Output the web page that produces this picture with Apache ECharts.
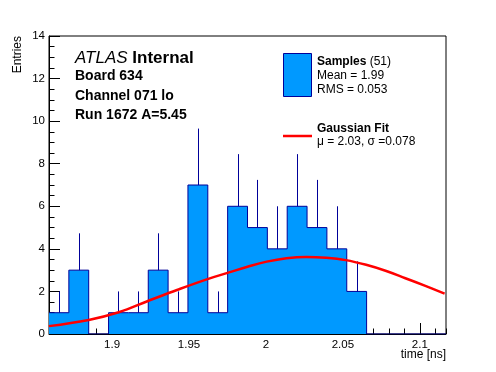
<!DOCTYPE html>
<html>
<head>
<meta charset="utf-8">
<script src="https://cdn.jsdelivr.net/npm/echarts@6/dist/echarts.min.js"></script>
<style>html,body{margin:0;padding:0;background:#fff}#c{width:496px;height:372px}</style>
</head>
<body>
<div id="c"></div>
<script>
// ---- data ----
const xMin = 1.859, xMax = 2.117;
const binEdges = [1.859, 1.8719, 1.8848, 1.8977, 1.9106, 1.9235, 1.9364, 1.9493, 1.9622, 1.9751, 1.988,
                  2.0009, 2.0138, 2.0267, 2.0396, 2.0525, 2.0654, 2.0783, 2.0912, 2.1041, 2.117];
const counts = [1, 3, 0, 1, 1, 3, 1, 7, 1, 6, 5, 4, 6, 5, 4, 2, 0, 0, 0, 0];
const errTops = [2, 4.73, 0, 2, 2, 4.73, 2, 9.65, 2, 8.45, 7.24, 6, 8.45, 7.24, 6, 3.41, 0, 0, 0, 0];
const fitX = [1.8589, 1.8848, 1.9043, 1.9233, 1.9426, 1.9620, 1.9750, 1.9880, 2.0005, 2.0133, 2.0262,
              2.0392, 2.0519, 2.0651, 2.0777, 2.0906, 2.1036, 2.1161];
const fitY = [0.37, 0.66, 1.02, 1.55, 2.08, 2.58, 2.87, 3.16, 3.40, 3.56, 3.62, 3.58, 3.47, 3.25, 2.97, 2.62, 2.26, 1.90];
const yTicks = [0, 14];

const FILL = '#0099ff', EDGE = '#000099', FONT = 'Liberation Sans';

const stepData = [];
for (let i = 0; i < counts.length; i++) stepData.push([binEdges[i], counts[i]]);
stepData.push([binEdges[counts.length], counts[counts.length - 1]]);
const errData = [];
for (let i = 0; i < counts.length; i++) if (counts[i] > 0) errData.push([binEdges[i], binEdges[i + 1], counts[i], errTops[i]]);
const fitData = fitX.map((x, i) => [x, fitY[i]]);

const chart = echarts.init(document.getElementById('c'), null, {renderer: 'canvas'});
chart.setOption({
  animation: false,
  backgroundColor: '#fff',
  grid: {left: 49, right: 50, top: 36, bottom: 38, show: true, borderColor: '#000', borderWidth: 1, backgroundColor: 'transparent'},
  xAxis: [{
    type: 'value', min: xMin, max: xMax, splitNumber: 5, position: 'bottom',
    axisLine: {show: true, lineStyle: {color: '#000', width: 1}},
    axisTick: {show: true, inside: true, length: 11, lineStyle: {color: '#000'}},
    axisLabel: {show: true, showMinLabel: false, showMaxLabel: false, color: '#000', fontFamily: FONT, fontSize: 11.5, margin: 5},
    splitLine: {show: false}
  }, {
    type: 'value', min: xMin, max: xMax, splitNumber: 26, position: 'bottom',
    axisLine: {show: false},
    axisTick: {show: true, inside: true, length: 5.5, lineStyle: {color: '#000'}},
    axisLabel: {show: false}, splitLine: {show: false}
  }],
  yAxis: {
    type: 'value', min: yTicks[0], max: yTicks[1], interval: 2,
    axisLine: {show: true, lineStyle: {color: '#000', width: 1}},
    axisTick: {show: true, inside: true, length: 11, lineStyle: {color: '#000'}},
    minorTick: {show: true, splitNumber: 4, length: 5.5, lineStyle: {color: '#000'}},
    axisLabel: {color: '#000', fontFamily: FONT, fontSize: 11.5, margin: 4},
    splitLine: {show: false}
  },
  series: [{
    type: 'line', step: 'end', data: stepData, symbol: 'none', z: 2,
    lineStyle: {color: EDGE, width: 1}, areaStyle: {color: FILL, opacity: 1}
  }, {
    type: 'custom', data: errData, z: 3,
    renderItem: function (params, api) {
      const xc = (api.value(0) + api.value(1)) / 2;
      const p1 = api.coord([xc, api.value(2)]);
      const p2 = api.coord([xc, api.value(3)]);
      return {type: 'line', shape: {x1: Math.round(p1[0]) + 0.5, y1: p1[1], x2: Math.round(p1[0]) + 0.5, y2: p2[1]},
              style: {stroke: EDGE, lineWidth: 1}};
    }
  }, {
    type: 'line', data: fitData, smooth: 0.4, symbol: 'none', z: 4,
    lineStyle: {color: '#ff0000', width: 2.5}
  }],
  graphic: [
    {type: 'text', x: 18, y: 36, rotation: Math.PI / 2, style: {text: 'Entries', fontFamily: FONT, fontSize: 12, fill: '#000', align: 'right', verticalAlign: 'middle'}},
    {type: 'text', x: 446, y: 355, style: {text: 'time [ns]', fontFamily: FONT, fontSize: 12, fill: '#000', align: 'right', verticalAlign: 'middle'}},
    {type: 'text', x: 75, y: 58, style: {rich: {i: {fontStyle: 'italic', fontFamily: FONT, fontSize: 17, fill: '#000'}, b: {fontWeight: 'bold', fontFamily: FONT, fontSize: 17, fill: '#000'}},
      text: '{i|ATLAS} {b|Internal}', fontFamily: FONT, fontSize: 17, verticalAlign: 'middle'}},
    {type: 'text', x: 75, y: 76, style: {text: 'Board 634', fontFamily: FONT, fontWeight: 'bold', fontSize: 14, fill: '#000', verticalAlign: 'middle'}},
    {type: 'text', x: 75, y: 96, style: {text: 'Channel 071 lo', fontFamily: FONT, fontWeight: 'bold', fontSize: 14, fill: '#000', verticalAlign: 'middle'}},
    {type: 'text', x: 75, y: 115, style: {text: 'Run 1672 A=5.45', fontFamily: FONT, fontWeight: 'bold', fontSize: 14, fill: '#000', verticalAlign: 'middle'}},
    {type: 'rect', shape: {x: 283.5, y: 53.5, width: 28, height: 43}, style: {fill: FILL, stroke: EDGE, lineWidth: 1}},
    {type: 'text', x: 317, y: 62, style: {rich: {b: {fontWeight: 'bold', fontFamily: FONT, fontSize: 12, fill: '#000'}, n: {fontFamily: FONT, fontSize: 12, fill: '#000'}},
      text: '{b|Samples}{n| (51)}', verticalAlign: 'middle'}},
    {type: 'text', x: 317, y: 76, style: {text: 'Mean = 1.99', fontFamily: FONT, fontSize: 12, fill: '#000', verticalAlign: 'middle'}},
    {type: 'text', x: 317, y: 90, style: {text: 'RMS = 0.053', fontFamily: FONT, fontSize: 12, fill: '#000', verticalAlign: 'middle'}},
    {type: 'line', shape: {x1: 283, y1: 136, x2: 312, y2: 136}, style: {stroke: '#ff0000', lineWidth: 2.5}},
    {type: 'text', x: 317, y: 129, style: {text: 'Gaussian Fit', fontFamily: FONT, fontWeight: 'bold', fontSize: 12, fill: '#000', verticalAlign: 'middle'}},
    {type: 'text', x: 317, y: 142, style: {text: 'μ = 2.03, σ =0.078', fontFamily: FONT, fontSize: 12, fill: '#000', verticalAlign: 'middle'}}
  ]
});
</script>
</body>
</html>
